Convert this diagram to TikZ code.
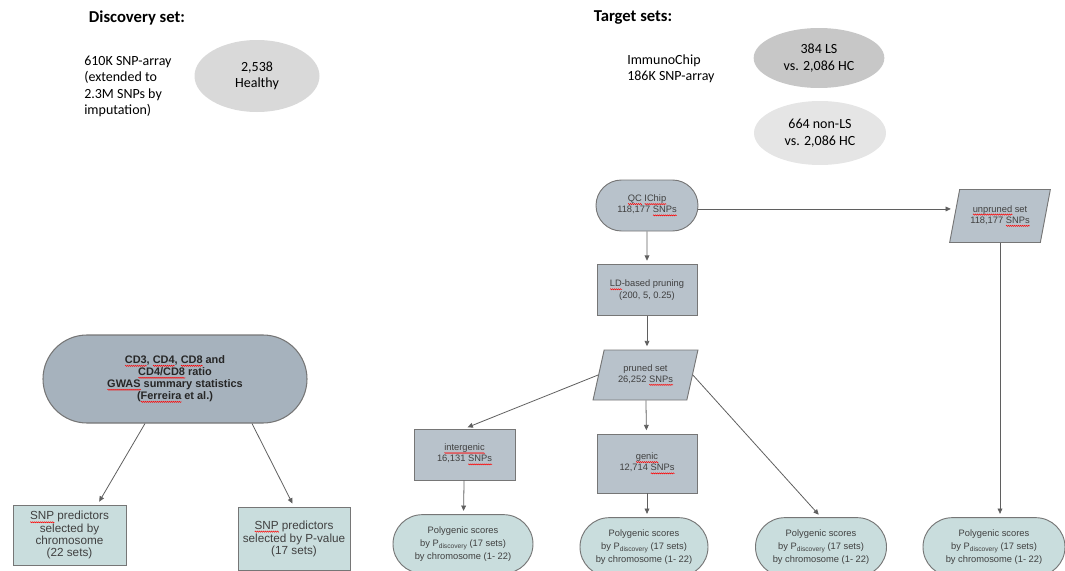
\documentclass[tikz,border=0pt]{standalone}
\usepackage{fontspec}
\setmainfont{Carlito}
\newfontfamily\arialfont{Liberation Sans}
\usetikzlibrary{shapes.geometric,shapes.misc,arrows.meta,decorations.pathmorphing}

\definecolor{flowblue}{RGB}{184,194,203}
\definecolor{gwasblue}{RGB}{166,178,189}
\definecolor{tealbox}{RGB}{201,221,221}
\definecolor{boxgray}{RGB}{118,118,118}
\definecolor{linegray}{RGB}{95,95,95}

% red spell-check wave under a word
\newlength\spellwd
\newcommand\spellmark[1]{\settowidth\spellwd{#1}\rlap{\tikz[baseline=0pt]\draw[draw=red,fill=none,line width=.35pt,decorate,decoration={zigzag,amplitude=.45pt,segment length=1.5pt}] (0pt,-1.9pt) -- (\spellwd,-1.9pt);}#1}
\newcommand\pdisc{P\raisebox{-1.6pt}{\fontsize{5}{5}\selectfont discovery}}

\tikzset{
headtextv1/.style={inner sep=0pt, font=\bfseries\fontsize{12.5}{15}\selectfont},
bodytextv1/.style={inner sep=0pt, align=left, font=\fontsize{10.5}{12.3}\selectfont},
grayellipsev1/.style={ellipse, draw=none, inner sep=0pt, align=center, font=\fontsize{10.5}{12.5}\selectfont},
flowtextv1/.style={align=center, text=black!75, inner sep=0pt, font=\arialfont\fontsize{7}{8.5}\selectfont},
rectnodev1/.style={rectangle, draw=boxgray, fill=flowblue, line width=.7pt, flowtextv1},
stadiumnodev1/.style={rounded rectangle, draw=boxgray, fill=flowblue, line width=.7pt, flowtextv1},
paranodev1/.style={trapezium, trapezium left angle=71, trapezium right angle=109, trapezium stretches=true, draw=boxgray, fill=flowblue, line width=.7pt, flowtextv1},
polynodev1/.style={rounded rectangle, draw=boxgray, fill=tealbox, line width=.7pt, flowtextv1, font=\arialfont\fontsize{7}{9.75}\selectfont, minimum height=44pt},
gwasnodev1/.style={rounded rectangle, draw=boxgray, fill=gwasblue, line width=.8pt, flowtextv1, text=black!85, font=\arialfont\bfseries\fontsize{8.2}{9}\selectfont},
snpboxv1/.style={rectangle, draw=boxgray, fill=tealbox, line width=.7pt, flowtextv1, font=\arialfont\fontsize{8.8}{8.8}\selectfont},
arrowlinev1/.style={draw=linegray, line width=.6pt, shorten >=2.5pt, >={Triangle[width=3.6pt,length=4pt]}},
}

\begin{document}
\begin{tikzpicture}[x=0.75pt,y=-0.75pt]
\useasboundingbox (0,0) rectangle (1065,571);

    % discovery side
    \node[headtextv1] at (137,18) (discset) {Discovery set:};
    \node[bodytextv1, anchor=west] at (84,86.5) (discarray) {610K SNP-array\\(extended to\\2.3M SNPs by\\imputation)};
    \node[grayellipsev1, fill=black!15, minimum width=93.75pt, minimum height=54pt] at (257,76) (healthy) {2,538\\Healthy};

    % target side
    \node[headtextv1] at (633,18) (targetset) {Target sets:};
    \node[bodytextv1, anchor=west] at (627,69) (immuno) {ImmunoChip\\186K SNP-array};
    \node[grayellipsev1, fill=black!22, minimum width=98pt, minimum height=45pt] at (819,58) (lscases) {384 LS\\vs. 2,086 HC};
    \node[grayellipsev1, fill=black!10, minimum width=99pt, minimum height=48pt] at (820,133) (nonlscases) {664 non-LS\\vs. 2,086 HC};

    \node[stadiumnodev1, minimum width=76.5pt, minimum height=38.25pt] at (647,205.5) (qcichip) {\spellmark{QC} \spellmark{IChip}\\118,177 \spellmark{SNPs}};
    \node[rectnodev1, minimum width=75pt, minimum height=38.25pt] at (647,290) (ldprune) {\spellmark{LD}-based pruning\\(200, 5, 0.25)};
    \node[paranodev1, minimum width=78.75pt, minimum height=37.5pt] at (645.5,375) (pruned) {pruned set\\26,252 \spellmark{SNPs}};
    \node[paranodev1, minimum width=75.75pt, minimum height=39.75pt] at (1000,216) (unpruned) {\spellmark{unpruned} set\\118,177 \spellmark{SNPs}};
    \node[rectnodev1, minimum width=75.75pt, minimum height=38.25pt] at (464.5,454.5) (intergenic) {\spellmark{intergenic}\\16,131 \spellmark{SNPs}};
    \node[rectnodev1, minimum width=75pt, minimum height=44.25pt] at (647,463.5) (genic) {\spellmark{genic}\\12,714 \spellmark{SNPs}};

    \node[polynodev1, minimum width=105pt] at (463,544) (polyinter) {Polygenic scores\\by \pdisc{} (17 sets)\\by chromosome (1- 22)};
    \node[polynodev1, minimum width=96pt] at (644,547) (polygenic) {Polygenic scores\\by \pdisc{} (17 sets)\\by chromosome (1- 22)};
    \node[polynodev1, minimum width=98.25pt] at (821,547) (polypruned) {Polygenic scores\\by \pdisc{} (17 sets)\\by chromosome (1- 22)};
    \node[polynodev1, minimum width=106.5pt] at (994,547) (polyunpruned) {Polygenic scores\\by \pdisc{} (17 sets)\\by chromosome (1- 22)};

    % GWAS part
    \node[gwasnodev1, minimum width=198pt, minimum height=66pt] at (175,379) (gwas) {\spellmark{CD3}, \spellmark{CD4}, \spellmark{CD8} and\\\spellmark{CD4/CD8} ratio\\\spellmark{GWAS} summary statistics\\(\spellmark{Ferreira} et al.)};
    \node[snpboxv1, minimum width=84.75pt, minimum height=45pt] at (69.5,535) (snpchrom) {\spellmark{SNP} predictors\\selected by\\chromosome\\(22 sets)};
    \node[snpboxv1, minimum width=84pt, minimum height=47.25pt] at (294,538.5) (snppval) {\spellmark{SNP} predictors\\selected by P-value\\(17 sets)};

     \draw[arrowlinev1,->] ([xshift=-22.5pt]gwas.south) to ([xshift=21pt]snpchrom.north);
     \draw[arrowlinev1,->] ([xshift=57.75pt]gwas.south) to (snppval.north);
     \draw[arrowlinev1,->] (qcichip) to (ldprune);
     \draw[arrowlinev1,->] ([yshift=-2.6pt]qcichip.east) to ([yshift=-2.6pt]qcichip.east -| unpruned.west);
     \draw[arrowlinev1,->] (ldprune.south) to (ldprune.south |- pruned.north);
     \draw[arrowlinev1,->] (pruned.west) to (intergenic.north);
     \draw[arrowlinev1,->] (pruned) to (genic);
     \draw[arrowlinev1,->] (pruned.east) to (polypruned.north);
     \draw[arrowlinev1,->] (intergenic) to (polyinter);
     \draw[arrowlinev1,->] (genic.south) to (genic.south |- polygenic.north);
     \draw[arrowlinev1,->] (unpruned.south) to (unpruned.south |- polyunpruned.north);
\end{tikzpicture}
\end{document}
